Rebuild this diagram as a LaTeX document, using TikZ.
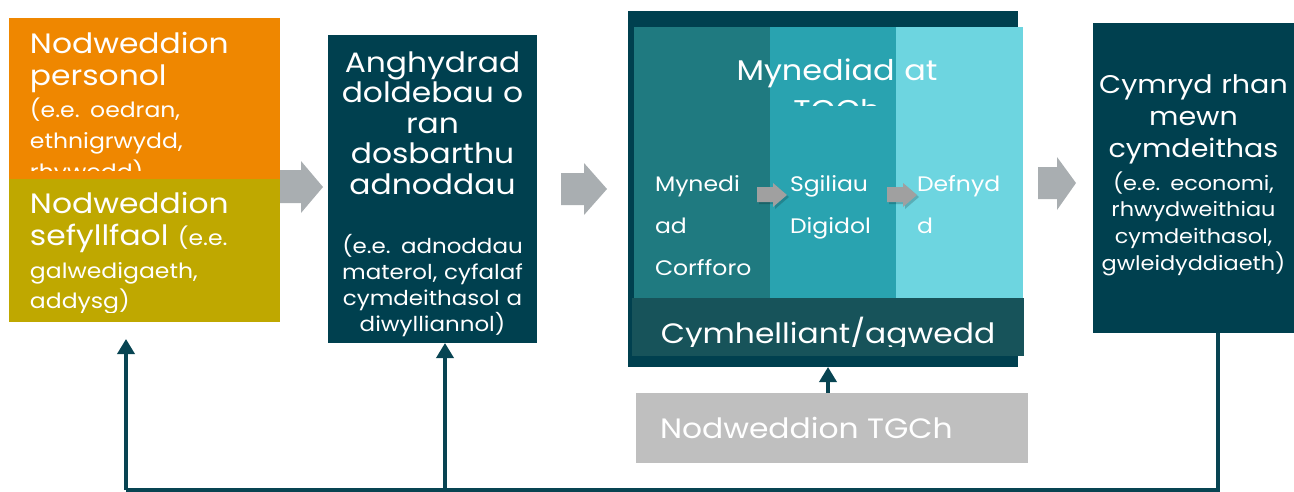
\documentclass[tikz,border=0pt]{standalone}
\usepackage{fontspec}
\setmainfont{Poppins}[FakeStretch=1.12]
\usetikzlibrary{arrows.meta}
\definecolor{corange}{HTML}{EF8700}
\definecolor{colive}{HTML}{BFA800}
\definecolor{cdark}{HTML}{00404F}
\definecolor{cpanA}{HTML}{1F7A80}
\definecolor{cpanB}{HTML}{29A3B0}
\definecolor{cpanC}{HTML}{6DD5E0}
\definecolor{cbar}{HTML}{17535A}
\definecolor{cgraybox}{HTML}{BFBFBF}
\definecolor{carrow}{HTML}{A9AEB1}
\definecolor{csmall}{HTML}{A0A0A0}
\definecolor{cline}{HTML}{084452}
\begin{document}
\begin{tikzpicture}[x=1pt,y=-1pt,
  box/.style={inner sep=0pt, outer sep=0pt, anchor=north west},
  tx/.style={text=white, inner sep=0pt, outer sep=0pt},
  big/.style={font=\fontsize{28}{32}\selectfont},
  small/.style={font=\fontsize{21}{31}\selectfont},
  fb/.style={draw=cline, line width=3.5pt},
  fbarrow/.style={fb, -{Triangle[length=15pt,width=17pt]}},
  blockarrow/.style={fill=carrow},
  smallarrow/.style={fill=csmall}]
\useasboundingbox (0,0) rectangle (1294,491);

% block arrows
\fill[blockarrow] (278,170) -- (301,170) -- (301,161) -- (323,187) -- (301,213) -- (301,203) -- (278,203) -- cycle;
\fill[blockarrow] (561,173) -- (584,173) -- (584,163) -- (607,189) -- (584,215) -- (584,205) -- (561,205) -- cycle;
\fill[blockarrow] (1038,167) -- (1057,167) -- (1057,157) -- (1076,183) -- (1057,210) -- (1057,199) -- (1038,199) -- cycle;

% left column
\node[box, fill=corange, minimum width=271pt, minimum height=162pt] (pers) at (9,18) {};
\begin{scope}
\clip (9,18) rectangle (280,170);
\node[tx, big, anchor=base west, text width=250pt, align=left] (persT) at (30,53) {Nodweddion\\personol};
\node[tx, small, anchor=base west, text width=250pt, align=left] (persS) at (30,117) {(e.e. oedran,\\ethnigrwydd,\\rhywedd)};
\end{scope}
\node[box, fill=colive, minimum width=271pt, minimum height=143pt] (sef) at (9,179) {};
\begin{scope}
\clip (9,179) rectangle (280,312);
\node[tx, big, anchor=base west, text width=250pt, align=left] (sefT) at (30,213) {Nodweddion\\sefyllfaol {\fontsize{21}{31}\selectfont (e.e.}};
\node[tx, anchor=base west, text width=250pt, align=left, font=\fontsize{21}{30}\selectfont] (sefS) at (30,278) {galwedigaeth,\\addysg)};
\end{scope}

% box 2
\node[box, fill=cdark, minimum width=209pt, minimum height=308pt] (ineq) at (328,35) {};
\node[tx, anchor=base, text width=205pt, align=center, font=\fontsize{28}{30.5}\selectfont] (ineqT) at (432.5,72) {Anghydrad\\doldebau o\\ran\\dosbarthu\\adnoddau};
\node[tx, anchor=base, text width=205pt, align=center, font=\fontsize{20.5}{26}\selectfont] (ineqS) at (432.5,253) {(e.e. adnoddau\\materol, cyfalaf\\cymdeithasol a\\diwylliannol)};

% big access box
\node[box, fill=cdark, minimum width=390pt, minimum height=356pt] (outer) at (628,11) {};
\node[box, fill=cpanA, minimum width=136pt, minimum height=271pt] (panA) at (634,27) {};
\node[box, fill=cpanB, minimum width=126pt, minimum height=271pt] (panB) at (770,27) {};
\node[box, fill=cpanC, minimum width=127pt, minimum height=271pt] (panC) at (896,27) {};
\begin{scope}
\clip (634,27) rectangle (1023,105);
\node[tx, anchor=base, text width=380pt, align=center, font=\fontsize{28.5}{40}\selectfont] (accT) at (837,80) {Mynediad at\\TGCh};
\end{scope}
\node[tx, anchor=base west, text width=110pt, align=left, font=\fontsize{21}{42}\selectfont] (physT) at (655,191) {Mynedi\\ad\\Corfforo};
\node[tx, anchor=base west, text width=110pt, align=left, font=\fontsize{21}{42}\selectfont] (skillT) at (790,191) {Sgiliau\\Digidol};
\node[tx, anchor=base west, text width=110pt, align=left, font=\fontsize{21}{42}\selectfont] (useT) at (917,191) {Defnyd\\d};
\fill[black, opacity=0.18] (759,189) -- (775,189) -- (775,185) -- (789,197) -- (775,209) -- (775,204) -- (759,204) -- cycle;
\fill[smallarrow] (757,187) -- (773,187) -- (773,183) -- (787,195) -- (773,207) -- (773,202) -- (757,202) -- cycle;
\fill[black, opacity=0.18] (889,189) -- (905,189) -- (905,185) -- (919,197) -- (905,209) -- (905,204) -- (889,204) -- cycle;
\fill[smallarrow] (887,187) -- (903,187) -- (903,183) -- (917,195) -- (903,207) -- (903,202) -- (887,202) -- cycle;
\node[box, fill=cbar, minimum width=392pt, minimum height=58pt] (bar) at (632,298) {};
\begin{scope}
\clip (632,298) rectangle (1024,346);
\node[tx, anchor=base, font=\fontsize{28}{32}\selectfont] (barT) at (828,343) {Cymhelliant/agwedd};
\end{scope}

% ICT characteristics
\node[box, fill=cgraybox, minimum width=392pt, minimum height=70pt] (tgch) at (636,393) {};
\node[tx, anchor=base west, font=\fontsize{28}{32}\selectfont] (tgchT) at (660,438) {Nodweddion TGCh};

% right box
\node[box, fill=cdark, minimum width=201pt, minimum height=310pt] (part) at (1093,23) {};
\node[tx, anchor=base, text width=200pt, align=center, font=\fontsize{25.5}{32}\selectfont] (partT) at (1193.5,93) {Cymryd rhan\\mewn\\cymdeithas};
\node[tx, anchor=base, text width=200pt, align=center, font=\fontsize{20}{26.7}\selectfont] (partS) at (1193.5,190) {(e.e. economi,\\rhwydweithiau\\cymdeithasol,\\gwleidyddiaeth)};

% feedback connectors
\coordinate (fbR) at (1218,333);
\coordinate (fbBR) at (1218,490);
\coordinate (fbBM) at (445,490);
\coordinate (fbBL) at (126,490);
\coordinate (fbTL) at (126,339);
\coordinate (fbTM) at (445,343);
\coordinate (tgchUp) at (828,393);
\coordinate (outerDn) at (828,367);
\draw[fb] (fbR) -- (fbBR) -- (fbBL);
\draw[fbarrow] (fbBL) -- (fbTL);
\draw[fbarrow] (fbBM) -- (fbTM);
\draw[fbarrow] (tgchUp) -- (outerDn);
\end{tikzpicture}
\end{document}
